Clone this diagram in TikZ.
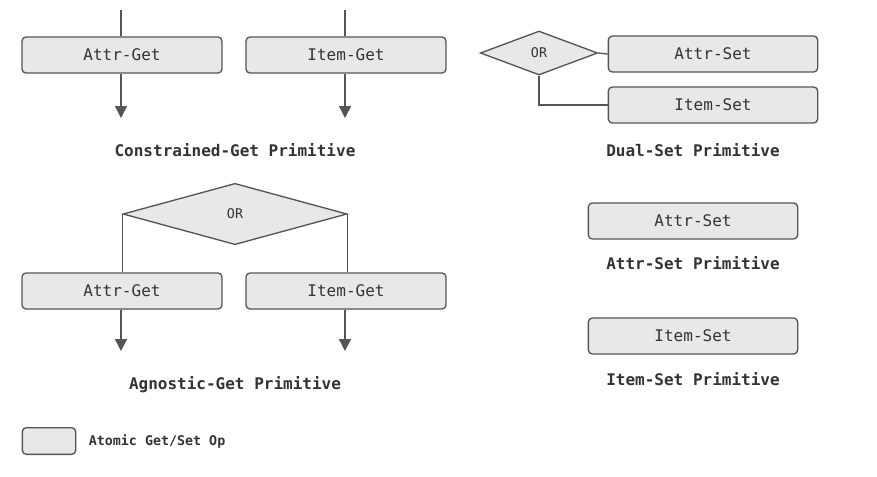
\documentclass[tikz,border=0pt]{standalone}
\usepackage{fontspec}
\setmonofont{DejaVu Sans Mono}
\usepackage{tikz}
\usetikzlibrary{arrows.meta,shapes.geometric}

\definecolor{opfill}{HTML}{E8E8E8}
\definecolor{opline}{HTML}{555555}
\definecolor{txt}{HTML}{333333}

\begin{document}
\begin{tikzpicture}[x=0.75pt,y=-0.75pt,>={Triangle[length=9pt,width=9pt]},
        op/.style={draw=opline,fill=opfill,rounded corners=3pt,line width=1pt,
          minimum width=150pt,minimum height=27pt,inner sep=0pt,font=\ttfamily\large,text=txt},
        gate/.style={draw=opline,fill=opfill,diamond,aspect=2.7,line width=1pt,
          inner sep=0pt,font=\ttfamily,text=txt},
        title/.style={font=\ttfamily\bfseries\large,text=txt},
        wire/.style={draw=opline,line width=1pt},
        semithick]
  \useasboundingbox (0,0) rectangle (877,476);
  % constrained get
  \coordinate (cg1) at (121,10);
  \coordinate (cg2) at (345,10);
  \node[op] (ag1) at (122,55) {Attr-Get};
  \node[op] (ig1) at (346,55) {Item-Get};
  \coordinate (ag1o) at (121,118);
  \coordinate (ig1o) at (345,118);
  \draw[wire] (cg1) -- (cg1 |- ag1.north);
  \draw[wire] (cg2) -- (cg2 |- ig1.north);
  \draw[wire,->,draw=opline,fill=opline] (ag1.south -| ag1o) -- (ag1o);
  \draw[wire,->,fill=opline] (ig1.south -| ig1o) -- (ig1o);
  \node[title] (t1) at (235,150) {Constrained-Get Primitive};
  % dual set
  \node[gate,minimum width=88pt,minimum height=33pt] (or1) at (539,53) {OR};
  \node[op,minimum width=157pt] (as1) at (713,54) {Attr-Set};
  \node[op,minimum width=157pt] (is1) at (713,105) {Item-Set};
  \draw[wire] (or1.east) -- (as1.west);
  \draw[wire] (or1.south) |- (is1.west);
  \node[title] (t2) at (693,150) {Dual-Set Primitive};
  % agnostic get
  \node[gate,minimum width=168pt,minimum height=46pt,aspect=3.6] (or2) at (235,214) {OR};
  \node[op] (ag2) at (122,291) {Attr-Get};
  \node[op] (ig2) at (346,291) {Item-Get};
  \coordinate (ag2o) at (121,351);
  \coordinate (ig2o) at (345,351);
  \draw[wire] (or2.west) -- (or2.west |- ag2.north);
  \draw[wire] (or2.east) -- (or2.east |- ig2.north);
  \draw[wire,->,fill=opline] (ag2.south -| ag2o) -- (ag2o);
  \draw[wire,->,fill=opline] (ig2.south -| ig2o) -- (ig2o);
  \node[title] (t3) at (235,385) {Agnostic-Get Primitive};
  % single set
  \node[op,minimum width=157pt] (as2) at (693,221) {Attr-Set};
  \node[title] (t4) at (693,263) {Attr-Set Primitive};
  \node[op,minimum width=157pt] (is2) at (693,336) {Item-Set};
  \node[title] (t5) at (693,379) {Item-Set Primitive};
  % legend
  \node[op,minimum width=40pt,minimum height=20pt] (key) at (49,441) {};
  \node[font=\ttfamily\bfseries,text=txt,anchor=west] (keyt) at (84,441) {Atomic Get/Set Op};
\end{tikzpicture}
\end{document}
